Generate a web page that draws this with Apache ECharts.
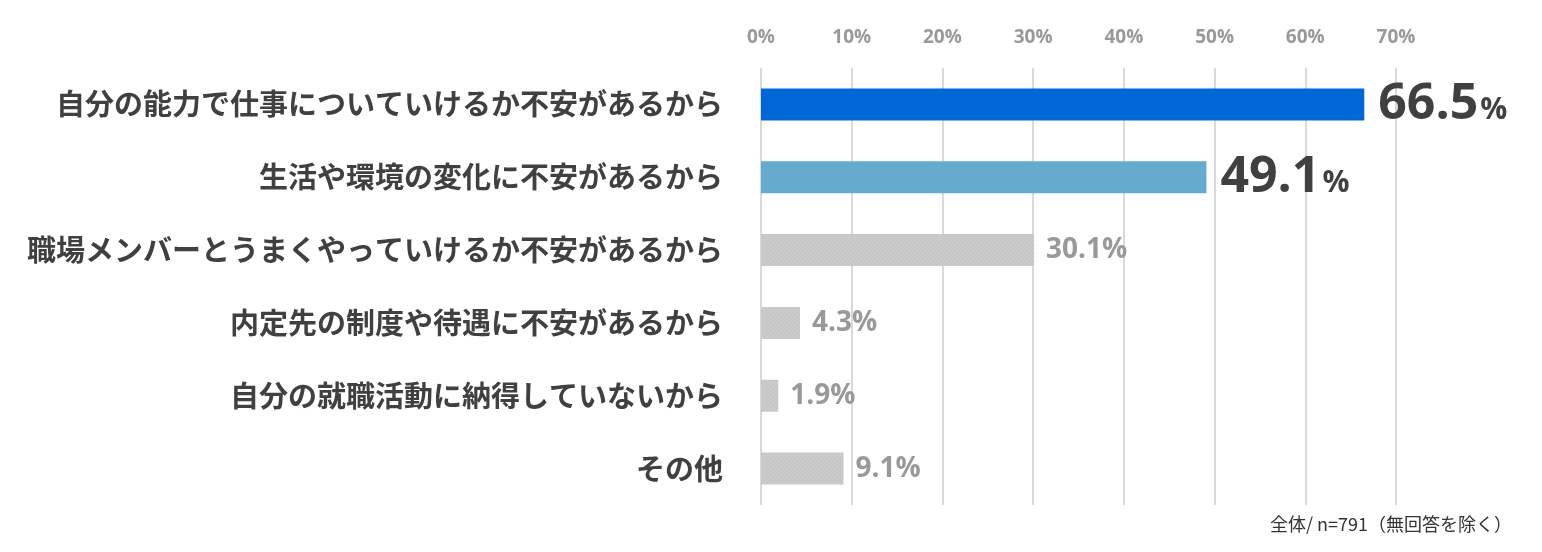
<!DOCTYPE html>
<html>
<head>
<meta charset="utf-8">
<script src="https://cdn.jsdelivr.net/npm/echarts@6/dist/echarts.min.js"></script>
<style>html,body{margin:0;padding:0;background:#fff;}#c{width:1542px;height:552px;}</style>
</head>
<body>
<div id="c"></div>
<script>
const categories = [
  '自分の能力で仕事についていけるか不安があるから',
  '生活や環境の変化に不安があるから',
  '職場メンバーとうまくやっていけるか不安があるから',
  '内定先の制度や待遇に不安があるから',
  '自分の就職活動に納得していないから',
  'その他'
];
const values = [66.5, 49.1, 30.1, 4.3, 1.9, 9.1];
const tickValues = [0, 10, 20, 30, 40, 50, 60, 70];
const footnote = '全体/ n=791（無回答を除く）';

// dotted gray texture
const pc = document.createElement('canvas');
pc.width = 4; pc.height = 4;
const g = pc.getContext('2d');
g.fillStyle = '#cbcbcb'; g.fillRect(0, 0, 4, 4);
g.fillStyle = '#b9b9b9'; g.fillRect(0, 0, 1, 1); g.fillRect(2, 2, 1, 1);

const barColors = ['#0068d6', '#66abcd'];
const numFont = "'Open Sans', 'Noto Sans CJK JP', sans-serif";

const data = values.map((v, i) => {
  const hi = i < 2;
  return {
    value: v,
    itemStyle: { color: hi ? barColors[i] : { image: pc, repeat: 'repeat' } },
    label: {
      show: true,
      position: 'right',
      distance: hi ? 14 : 12,
      formatter: hi ? '{a|' + v.toFixed(1) + '}{b|%}' : '{c|' + v.toFixed(1) + '%}',
      rich: {
        a: { fontSize: 50, fontWeight: 'bold', color: '#404040', fontFamily: numFont, padding: [0, 2, 0, 0] },
        b: { fontSize: 30, fontWeight: 'bold', color: '#404040', fontFamily: numFont, padding: [12, 0, 0, 0] },
        c: { fontSize: 28, fontWeight: 'bold', color: '#999999', fontFamily: numFont }
      }
    }
  };
});

const chart = echarts.init(document.getElementById('c'));
chart.setOption({
  animation: false,
  backgroundColor: '#ffffff',
  grid: { left: 761, right: 146, top: 68, bottom: 47, containLabel: false },
  xAxis: {
    type: 'value',
    position: 'top',
    min: tickValues[0],
    max: tickValues[tickValues.length - 1],
    interval: 10,
    axisLine: { show: false },
    axisTick: { show: false },
    axisLabel: {
      formatter: '{value}%',
      color: '#999999',
      fontSize: 19,
      fontWeight: 'bold',
      fontFamily: numFont,
      margin: 21
    },
    splitLine: { show: true, lineStyle: { color: '#d9d9d9', width: 2 } }
  },
  yAxis: {
    type: 'category',
    inverse: true,
    data: categories,
    axisLine: { show: false },
    axisTick: { show: false },
    axisLabel: {
      color: '#404040',
      fontSize: 29,
      fontWeight: 'bold',
      fontFamily: "'Noto Sans CJK JP', sans-serif",
      margin: 38
    }
  },
  series: [{
    type: 'bar',
    data: data,
    barWidth: 32
  }],
  graphic: [{
    type: 'text',
    right: 30,
    top: 515,
    style: {
      text: footnote,
      fill: '#333333',
      fontSize: 18,
      fontFamily: "'Noto Sans CJK JP', sans-serif"
    }
  }]
});
</script>
</body>
</html>
